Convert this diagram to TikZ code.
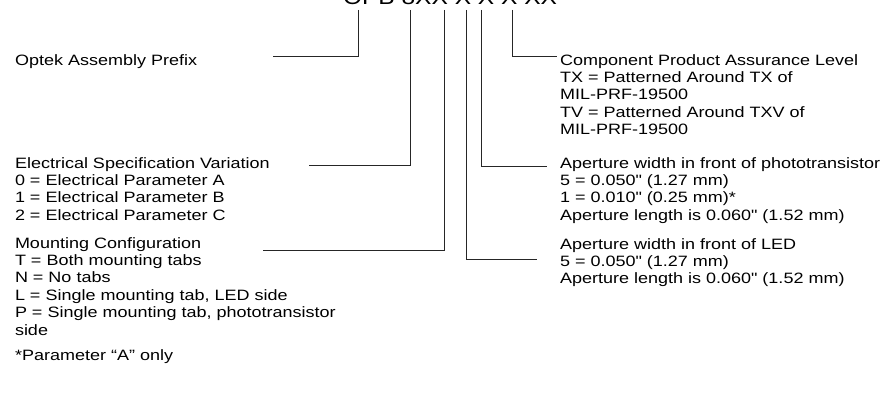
\documentclass[tikz,border=0pt]{standalone}
\usepackage{graphicx}
\usepackage{fontspec}
\setmainfont{Liberation Sans}[Ligatures=TeXOff]
\newcommand{\blk}[1]{\scalebox{1.2}[1]{\fontsize{15pt}{17.4pt}\selectfont\begin{tabular}[t]{@{}l@{}}#1\end{tabular}}}
\begin{document}
\begin{tikzpicture}[x=1pt,y=-1pt,
  conn/.style={draw=black!85, line width=0.8pt},
  txt/.style={anchor=base west, inner sep=0pt, outer sep=0pt}]
\useasboundingbox (0,0) rectangle (890,396);
\clip (0,0) rectangle (890,396);
% title (cut at the top, as in the reference)
\node[txt] (title) at (343,5) {\resizebox{214pt}{15pt}{OPB 8XX X X X XX}};
% left texts
\node[txt] (optek) at (15,65) {\blk{Optek Assembly Prefix}};
\node[txt] (elec) at (15,168) {\blk{Electrical Specification Variation\\0 = Electrical Parameter A\\1 = Electrical Parameter B\\2 = Electrical Parameter C}};
\node[txt] (mount) at (15,248) {\blk{Mounting Configuration\\T = Both mounting tabs\\N = No tabs\\L = Single mounting tab, LED side\\P = Single mounting tab, phototransistor\\side}};
\node[txt] (note) at (15,360) {\blk{*Parameter “A” only}};
% right texts
\node[txt] (cpal) at (560,65) {\blk{Component Product Assurance Level\\TX = Patterned Around TX of\\MIL-PRF-19500\\TV = Patterned Around TXV of\\MIL-PRF-19500}};
\node[txt] (photo) at (560,168) {\blk{Aperture width in front of phototransistor\\5 = 0.050" (1.27 mm)\\1 = 0.010" (0.25 mm)*\\Aperture length is 0.060" (1.52 mm)}};
\node[txt] (led) at (560,249) {\blk{Aperture width in front of LED\\5 = 0.050" (1.27 mm)\\Aperture length is 0.060" (1.52 mm)}};
% connector ends
\coordinate (t1) at (358,10);
\coordinate (t2) at (410,10);
\coordinate (t3) at (444,10);
\coordinate (t4) at (466,10);
\coordinate (t5) at (481,10);
\coordinate (t6) at (512,10);
\coordinate (o1) at (273,56);
\coordinate (e1) at (309,165);
\coordinate (m1) at (263,250);
\coordinate (l1) at (537,259);
\coordinate (p1) at (547,166);
\coordinate (c1) at (557,56);
\draw[conn] (t1) |- (o1);
\draw[conn] (t2) |- (e1);
\draw[conn] (t3) |- (m1);
\draw[conn] (t4) |- (l1);
\draw[conn] (t5) |- (p1);
\draw[conn] (t6) |- (c1);
\end{tikzpicture}
\end{document}
